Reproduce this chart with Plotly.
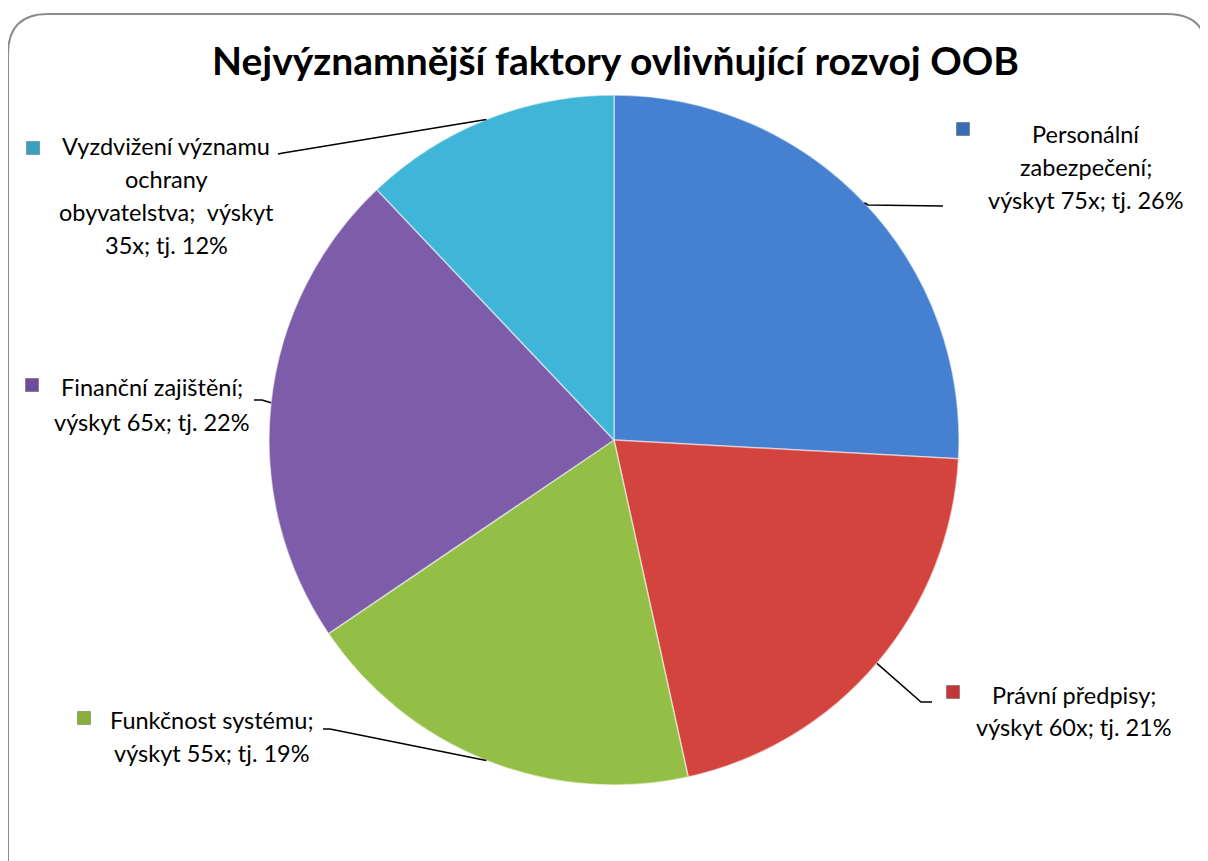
import math
import plotly.graph_objects as go

# ---- data ----
categories = ["Personální zabezpečení", "Právní předpisy", "Funkčnost systému",
              "Finanční zajištění", "Vyzdvižení významu ochrany obyvatelstva"]
counts = [75, 60, 55, 65, 35]
label_lines = [
    ["Personální", "zabezpečení;", "výskyt 75x; tj. 26%"],
    ["Právní předpisy;", "výskyt 60x; tj. 21%"],
    ["Funkčnost systému;", "výskyt 55x; tj. 19%"],
    ["Finanční zajištění;", "výskyt 65x; tj. 22%"],
    ["Vyzdvižení významu", "ochrany", "obyvatelstva;  výskyt", "35x; tj. 12%"],
]
colors = ["#4680d0", "#d4443f", "#94bf47", "#7d5da9", "#3fb5d7"]
marker_colors = ["#3a6cb4", "#c0363a", "#8cae3c", "#6c4c98", "#3aa0c0"]

W, H = 1208, 861
OFF = 8  # page body margin offset
CX, CY, R = 614, 440, 345
FONT = "Lato"

def px(x):
    return (x - OFF) / W

def py(y):
    return 1 - (y - OFF) / H

label_layout = [
    dict(tx=1086, ty=134, dy=33, mx=963, my=129, elbow=(868, 205), end=(943, 206)),
    dict(tx=1074, ty=695, dy=32, mx=953, my=692, elbow=(921, 702), end=(932, 702)),
    dict(tx=212, ty=720, dy=33, mx=84, my=718, elbow=(330, 729), end=(323, 729)),
    dict(tx=152, ty=387, dy=35, mx=32, my=385, elbow=(262, 400), end=(254, 400)),
    dict(tx=166, ty=146, dy=33, mx=33, my=148, elbow=(283, 153), end=(278, 154)),
]

fig = go.Figure()
fig.add_trace(go.Pie(
    labels=categories, values=counts, sort=False, direction="clockwise", rotation=0,
    marker=dict(colors=colors, line=dict(color="rgba(255,255,255,0.5)", width=1.5)),
    textinfo="none", hoverinfo="label+value+percent", showlegend=False,
    domain=dict(x=[px(CX - R), px(CX + R)], y=[py(CY + R), py(CY - R)]),
))

shapes = []
annotations = []
total = sum(counts)
cum = 0
for i, v in enumerate(counts):
    mid = (cum + v / 2) / total * 2 * math.pi
    cum += v
    ex = CX + R * math.sin(mid)
    ey = CY - R * math.cos(mid)
    L = label_layout[i]
    path = f"M {px(ex)} {py(ey)} L {px(L['elbow'][0])} {py(L['elbow'][1])} L {px(L['end'][0])} {py(L['end'][1])}"
    shapes.append(dict(type="path", path=path, xref="paper", yref="paper",
                       line=dict(color="black", width=1.5)))
    for j, line in enumerate(label_lines[i]):
        annotations.append(dict(x=px(L['tx']), y=py(L['ty'] + j * L['dy']), xref="paper", yref="paper",
                                text=line, showarrow=False, xanchor="center", yanchor="middle",
                                font=dict(family=FONT, size=23.5, color="black")))
    s = 6.5
    shapes.append(dict(type="rect", xref="paper", yref="paper",
                       x0=px(L['mx'] - s), x1=px(L['mx'] + s), y0=py(L['my'] + s), y1=py(L['my'] - s),
                       fillcolor=marker_colors[i], line=dict(color="rgba(0,0,0,0.25)", width=1)))

# outer frame (rounded)
x0, y0, x1, y1, rr = 8, 14, 1207, 880, 40
frame = (f"M {px(x0)} {py(y0 + rr)} Q {px(x0)} {py(y0)} {px(x0 + rr)} {py(y0)} "
         f"L {px(x1 - rr)} {py(y0)} Q {px(x1)} {py(y0)} {px(x1)} {py(y0 + rr)} "
         f"L {px(x1)} {py(y1)} L {px(x0)} {py(y1)} Z")
shapes.append(dict(type="path", path=frame, xref="paper", yref="paper",
                   line=dict(color="#8c8c8c", width=2), layer="below"))

annotations.append(dict(x=px(615), y=py(60), xref="paper", yref="paper",
                        text="<b>Nejvýznamnější faktory ovlivňující rozvoj OOB</b>",
                        showarrow=False, xanchor="center", yanchor="middle",
                        font=dict(family=FONT, size=39, color="black")))

fig.update_layout(width=W, height=H, margin=dict(l=0, r=0, t=0, b=0),
                  paper_bgcolor="white", plot_bgcolor="white",
                  shapes=shapes, annotations=annotations, showlegend=False)
fig.write_html("out.html")
